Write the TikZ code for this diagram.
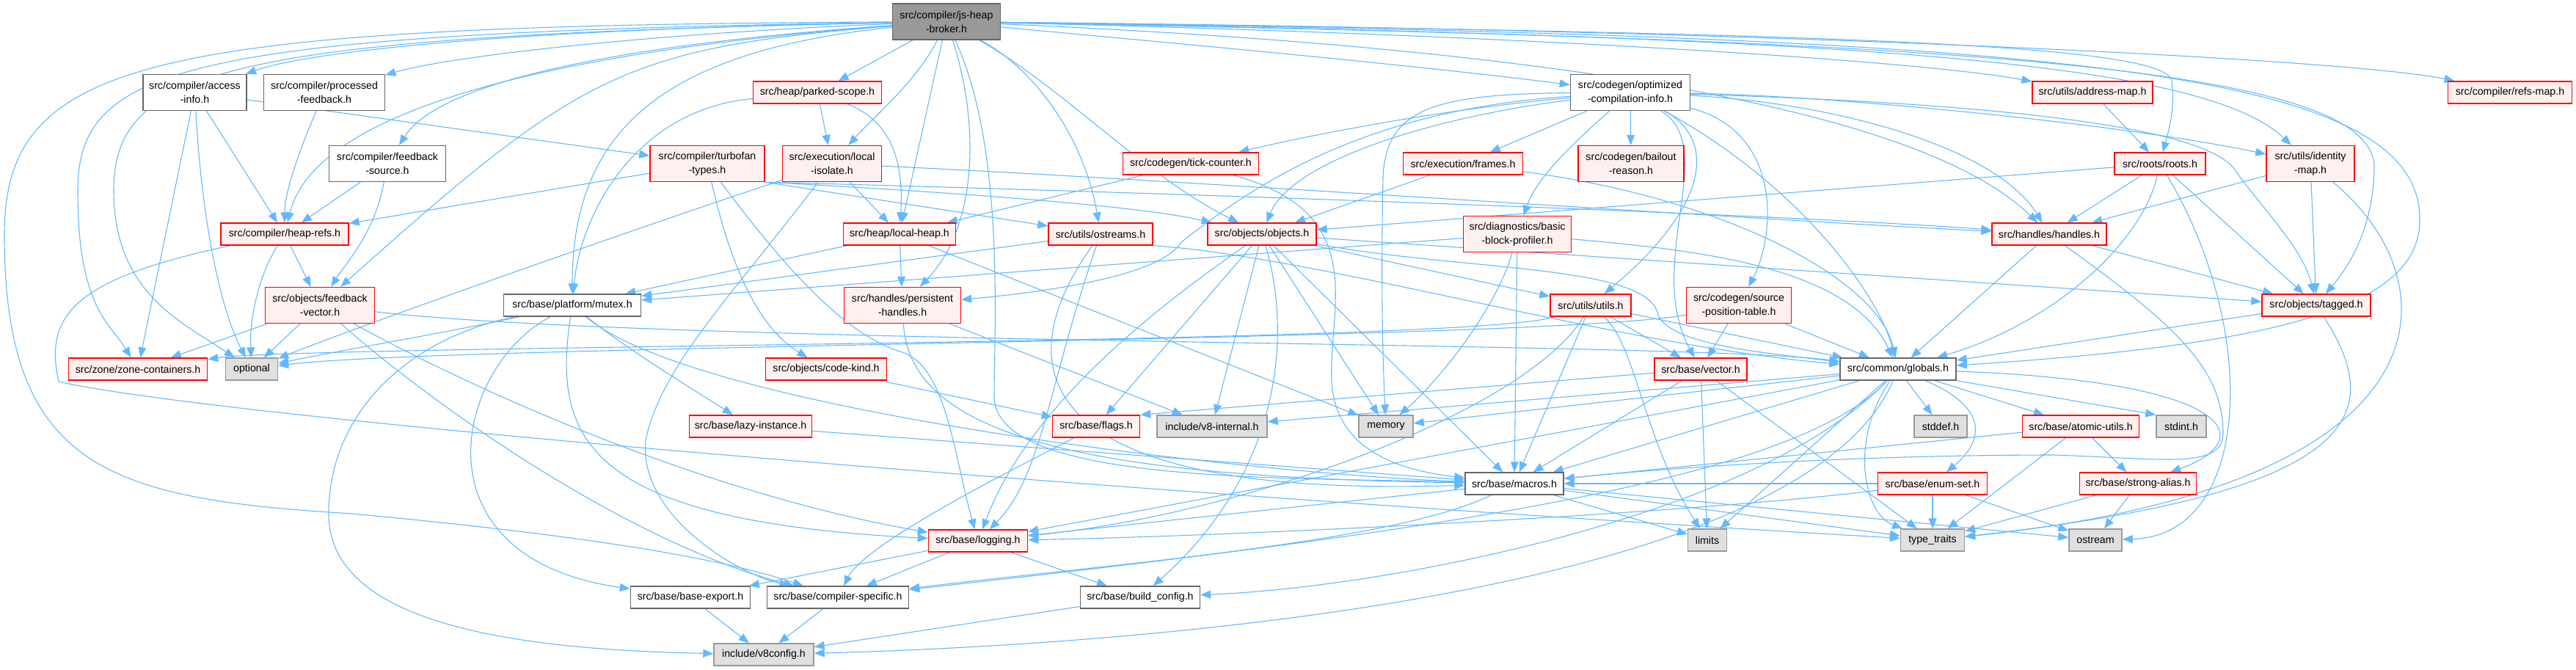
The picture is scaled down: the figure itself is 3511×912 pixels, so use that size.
\documentclass[tikz,border=0pt]{standalone}
\usepackage{fontspec}
\setmainfont{Liberation Sans}
\usetikzlibrary{arrows.meta}
\definecolor{edgec}{HTML}{63B8FF}
\definecolor{redfill}{HTML}{FFF0F0}
\definecolor{redd}{HTML}{FF0000}
\definecolor{greyfill}{HTML}{E0E0E0}
\definecolor{greyd}{HTML}{999999}
\definecolor{whited}{HTML}{666666}
\definecolor{mainfill}{HTML}{999999}
\pgfdeclarelayer{bg}
\pgfsetlayers{bg,main}
\begin{document}
\begin{tikzpicture}[x=0.5pt,y=-0.5pt,
  nb/.style={draw, line width=0.7pt, inner sep=0pt, align=center, font=\fontsize{7.1}{9.5}\selectfont},
  nr/.style={nb, draw=redd, fill=redfill},
  ng/.style={nb, draw=greyd, fill=greyfill},
  nw/.style={nb, draw=whited, fill=white},
  nm/.style={nb, draw=whited, fill=mainfill},
  one/.style={minimum height=15pt},
  two/.style={minimum height=24.5pt},
  ed/.style={draw=edgec, line width=0.55pt, -{Triangle[length=7pt,width=5.5pt]}}]
\useasboundingbox (0,0) rectangle (3511,912);
% rank 0
\node[nm,two,minimum width=73.5pt] (B) at (1290,29.5) {src/compiler/js-heap\\-broker.h};
% rank 1
\node[nw,two,minimum width=70.5pt] (AI) at (265.5,126) {src/compiler/access\\-info.h};
\node[nw,two,minimum width=82.5pt] (PF) at (442,126) {src/compiler/processed\\-feedback.h};
\node[nr,one,minimum width=87.5pt] (PS) at (1114,126) {src/heap/parked-scope.h};
\node[nw,two,minimum width=81.5pt] (OC) at (2222,126) {src/codegen/optimized\\-compilation-info.h};
\node[nr,one,minimum width=82pt] (AM) at (2852,126) {src/utils/address-map.h};
\node[nr,one,minimum width=84.5pt] (RM) at (3421,126) {src/compiler/refs-map.h};
% rank 2
\node[nw,two,minimum width=79.5pt] (FS) at (528,223) {src/compiler/feedback\\-source.h};
\node[nr,two,minimum width=78pt] (TT) at (964,223) {src/compiler/turbofan\\-types.h};
\node[nr,two,minimum width=67.5pt] (LI) at (1134,223) {src/execution/local\\-isolate.h};
\node[nr,one,minimum width=92.5pt] (TC) at (1623,223) {src/codegen/tick-counter.h};
\node[nr,one,minimum width=81.5pt] (FR) at (1994,223) {src/execution/frames.h};
\node[nr,two,minimum width=72pt] (BR) at (2223,223) {src/codegen/bailout\\-reason.h};
\node[nr,one,minimum width=62pt] (RO) at (2944,223) {src/roots/roots.h};
\node[nr,two,minimum width=60pt] (IM) at (3149,223) {src/utils/identity\\-map.h};
% rank 3
\node[nr,one,minimum width=87pt] (HR) at (388,319) {src/compiler/heap-refs.h};
\node[nr,one,minimum width=76.5pt] (LH) at (1226,319) {src/heap/local-heap.h};
\node[nr,one,minimum width=71pt] (OS) at (1500,319) {src/utils/ostreams.h};
\node[nr,one,minimum width=74pt] (OB) at (1720,319) {src/objects/objects.h};
\node[nr,two,minimum width=73.5pt] (BB) at (2068,319) {src/diagnostics/basic\\-block-profiler.h};
\node[nr,one,minimum width=78pt] (HA) at (2793,319) {src/handles/handles.h};
% rank 4
\node[nr,two,minimum width=74.5pt] (FV) at (436,416) {src/objects/feedback\\-vector.h};
\node[nw,one,minimum width=93.5pt] (MX) at (780,416) {src/base/platform/mutex.h};
\node[nr,two,minimum width=79.5pt] (PH) at (1230,416) {src/handles/persistent\\-handles.h};
\node[nr,one,minimum width=55pt] (UT) at (2168,416) {src/utils/utils.h};
\node[nr,two,minimum width=71.5pt] (SP) at (2370,416) {src/codegen/source\\-position-table.h};
\node[nr,one,minimum width=74pt] (TG) at (3157,416) {src/objects/tagged.h};
% rank 5
\node[nr,one,minimum width=94.5pt] (ZC) at (188,503) {src/zone/zone-containers.h};
\node[ng,one,minimum width=35.5pt] (OP) at (343,503) {optional};
\node[nr,one,minimum width=82.5pt] (CK) at (1126,503) {src/objects/code-kind.h};
\node[nr,one,minimum width=63pt] (VE) at (2318,503) {src/base/vector.h};
\node[nw,one,minimum width=79pt] (GL) at (2587,503) {src/common/globals.h};
% rank 6
\node[nr,one,minimum width=83.5pt] (LZ) at (1023,581) {src/base/lazy-instance.h};
\node[nr,one,minimum width=59.5pt] (FL) at (1494,581) {src/base/flags.h};
\node[ng,one,minimum width=75pt] (VI) at (1652,581) {include/v8-internal.h};
\node[ng,one,minimum width=37pt] (ME) at (1889,581) {memory};
\node[ng,one,minimum width=36pt] (SD) at (2645,581) {stddef.h};
\node[nr,one,minimum width=79.5pt] (AU) at (2836,581) {src/base/atomic-utils.h};
\node[ng,one,minimum width=34pt] (SI) at (2973,581) {stdint.h};
% rank 7
\node[nw,one,minimum width=67pt] (MA) at (2064,659) {src/base/macros.h};
\node[nr,one,minimum width=74.5pt] (ES) at (2634,659) {src/base/enum-set.h};
\node[nr,one,minimum width=79.5pt] (SA) at (2914,659) {src/base/strong-alias.h};
% rank 8
\node[nr,one,minimum width=67.5pt] (LO) at (1333,737) {src/base/logging.h};
\node[ng,one,minimum width=26.5pt] (LM) at (2327,736) {limits};
\node[ng,one,minimum width=43.5pt] (TR) at (2634,736) {type\_traits};
\node[ng,one,minimum width=36pt] (OT) at (2856,736) {ostream};
% rank 9
\node[nw,one,minimum width=81.5pt] (BE) at (941,814) {src/base/base-export.h};
\node[nw,one,minimum width=96.5pt] (CS) at (1142,814) {src/base/compiler-specific.h};
\node[nw,one,minimum width=81.5pt] (BC) at (1554,814) {src/base/build\_config.h};
% rank 10
\node[ng,one,minimum width=68pt] (V8) at (1041,892) {include/v8config.h};

\begin{pgfonlayer}{bg}
% broker
\draw[ed] (B) .. controls (700,40) and (420,70) .. (AI);
\draw[ed] (B) .. controls (900,45) and (620,75) .. (PF);
\draw[ed] (B) .. controls (850,60) and (600,110) .. (FS);
\draw[ed] (B) .. controls (750,70) and (430,150) .. (HR);
\draw[ed] (B) .. controls (850,65) and (790,100) .. (FV);
\draw[ed] (B) .. controls (250,45) and (106,90) .. (106,260) .. controls (106,420) and (150,440) .. (ZC);
\draw[ed] (B) .. controls (320,50) and (155,90) .. (155,260) .. controls (155,400) and (250,440) .. (OP);
\draw[ed] (B) .. controls (200,35) and (6,80) .. (6,320) .. controls (6,640) and (150,680) .. (480,700) .. controls (800,730) and (980,760) .. (CS);
\draw[ed] (B) .. controls (900,70) and (780,180) .. (MX);
\draw[ed] (B) -- (PS);
\draw[ed] (B) .. controls (1250,110) and (1190,160) .. (LI);
\draw[ed] (B) -- (LH);
\draw[ed] (B) .. controls (1330,150) and (1340,300) .. (PH);
\draw[ed] (B) .. controls (1370,200) and (1355,450) .. (1355,540) .. controls (1355,660) and (1750,650) .. (MA);
\draw[ed] (B) .. controls (1420,100) and (1480,200) .. (OS);
\draw[ed] (B) .. controls (1450,120) and (1560,240) .. (OB);
\draw[ed] (B) .. controls (1500,50) and (1900,85) .. (OC);
\draw[ed] (B) .. controls (2000,60) and (2600,130) .. (HA);
\draw[ed] (B) .. controls (2000,45) and (2600,80) .. (AM);
\draw[ed] (B) .. controls (2400,40) and (3200,80) .. (RM);
\draw[ed] (B) .. controls (2500,45) and (2950,60) .. (2960,110) .. controls (2965,150) and (2955,180) .. (RO);
\draw[ed] (B) .. controls (2500,50) and (3000,80) .. (IM);
\draw[ed] (B) .. controls (2700,55) and (3240,90) .. (3236,230) .. controls (3234,320) and (3195,370) .. (TG);
\draw[ed] (B) .. controls (2800,50) and (3300,90) .. (3298,300) .. controls (3298,420) and (3100,470) .. (GL);
% access-info etc
\draw[ed] (AI) -- (TT);
\draw[ed] (AI) -- (HR);
\draw[ed] (AI) -- (ZC);
\draw[ed] (AI) .. controls (275,300) and (300,420) .. (OP);
\draw[ed] (PF) .. controls (410,200) and (388,260) .. (HR);
\draw[ed] (FS) -- (HR);
\draw[ed] (FS) .. controls (510,320) and (470,360) .. (FV);
% turbofan-types
\draw[ed] (TT) -- (HR);
\draw[ed] (TT.south east) -- (OS);
\draw[ed] (TT.south east) .. controls (1300,262) and (1550,280) .. (OB);
\draw[ed] (TT.south east) .. controls (1500,260) and (2400,290) .. (HA);
\draw[ed] (TT) .. controls (1000,380) and (1040,450) .. (CK);
\draw[ed] (TT) .. controls (1080,380) and (1160,460) .. (1230,480) .. controls (1290,500) and (1300,620) .. (LO);
% local-isolate
\draw[ed] (LI) -- (LH);
\draw[ed] (LI) .. controls (1600,245) and (2400,300) .. (HA);
\draw[ed] (LI) .. controls (900,300) and (500,440) .. (OP);
\draw[ed] (LI) .. controls (1000,400) and (900,500) .. (880,600) .. controls (870,700) and (1000,780) .. (CS);
% parked-scope
\draw[ed] (PS) -- (LI);
\draw[ed] (PS) .. controls (1215,165) and (1232,220) .. (LH);
\draw[ed] (PS) .. controls (860,150) and (790,300) .. (MX);
% tick-counter
\draw[ed] (TC) -- (LH);
\draw[ed] (TC) .. controls (1870,290) and (1810,420) .. (1815,520) .. controls (1820,610) and (1900,640) .. (MA);
% optimized-compilation-info
\draw[ed] (OC) .. controls (1950,150) and (1760,190) .. (TC);
\draw[ed] (OC) -- (FR);
\draw[ed] (OC) -- (BR);
\draw[ed] (OC) .. controls (2150,190) and (2095,240) .. (BB);
\draw[ed] (OC) .. controls (2340,190) and (2330,280) .. (UT);
\draw[ed] (OC) .. controls (2430,180) and (2420,320) .. (SP);
\draw[ed] (OC) .. controls (1950,160) and (1760,220) .. (OB);
\draw[ed] (OC) .. controls (1850,150) and (1700,260) .. (1610,330) .. controls (1580,380) and (1400,400) .. (PH);
\draw[ed] (OC) .. controls (1950,128) and (1890,150) .. (1885,240) .. controls (1882,400) and (1885,500) .. (ME);
\draw[ed] (OC) .. controls (2500,140) and (2720,200) .. (HA);
\draw[ed] (OC) .. controls (2500,130) and (2900,170) .. (IM);
\draw[ed] (OC) .. controls (2700,140) and (3000,170) .. (3045,230) .. controls (3080,280) and (3140,340) .. (TG);
\draw[ed] (OC) .. controls (2450,250) and (2560,400) .. (GL);
\draw[ed] (OC) .. controls (2345,200) and (2240,360) .. (VE);
% frames, roots, address-map, identity-map
\draw[ed] (FR) -- (OB);
\draw[ed] (FR) .. controls (2350,270) and (2560,380) .. (GL);
\draw[ed] (RO) -- (HA);
\draw[ed] (RO) -- (TG);
\draw[ed] (RO) -- (OB);
\draw[ed] (RO) .. controls (2920,330) and (2800,440) .. (GL);
\draw[ed] (RO) .. controls (3080,450) and (3070,730) .. (OT);
\draw[ed] (AM) -- (RO);
\draw[ed] (IM) -- (HA);
\draw[ed] (IM) -- (TG);
\draw[ed] (IM) .. controls (3340,380) and (3360,660) .. (TR);
% heap-refs
\draw[ed] (HR) -- (FV);
\draw[ed] (HR) .. controls (350,380) and (340,440) .. (OP);
\draw[ed] (HR) .. controls (100,380) and (60,430) .. (80,520) .. controls (300,570) and (1500,670) .. (TR);
% feedback-vector
\draw[ed] (FV) -- (ZC);
\draw[ed] (FV) -- (OP);
\draw[ed] (FV) .. controls (900,470) and (2300,465) .. (GL);
\draw[ed] (FV) .. controls (700,560) and (1000,680) .. (LO);
\draw[ed] (FV) .. controls (600,560) and (860,740) .. (CS);
% mutex
\draw[ed] (MX) .. controls (600,455) and (450,480) .. (OP);
\draw[ed] (MX) .. controls (620,500) and (560,760) .. (BE);
\draw[ed] (MX) .. controls (560,460) and (448,560) .. (448,700) .. controls (448,850) and (700,885) .. (V8);
\draw[ed] (MX) .. controls (860,480) and (960,540) .. (LZ);
\draw[ed] (MX) .. controls (752,600) and (800,710) .. (LO);
\draw[ed] (MX) .. controls (950,560) and (1700,645) .. (MA);
% local-heap
\draw[ed] (LH) -- (MX);
\draw[ed] (LH) -- (PH);
\draw[ed] (LH) -- (ME);
% ostreams
\draw[ed] (OS) -- (MX);
\draw[ed] (OS) .. controls (1370,500) and (1400,680) .. (MA);
\draw[ed] (OS) .. controls (1430,520) and (1420,650) .. (LO);
\draw[ed] (OS.south east) .. controls (1800,350) and (2200,470) .. (GL);
% objects
\draw[ed] (OB) -- (UT);
\draw[ed] (OB) -- (TG);
\draw[ed] (OB) .. controls (2000,370) and (2250,360) .. (2260,430) .. controls (2280,470) and (2400,480) .. (GL);
\draw[ed] (OB) -- (ME);
\draw[ed] (OB) -- (VI);
\draw[ed] (OB) -- (FL);
\draw[ed] (OB) -- (MA);
\draw[ed] (OB) .. controls (1560,430) and (1400,560) .. (LO);
\draw[ed] (OB) .. controls (1760,450) and (1750,640) .. (BC);
% basic-block-profiler
\draw[ed] (BB) -- (MX);
\draw[ed] (BB) .. controls (2040,420) and (1960,520) .. (ME);
\draw[ed] (BB) -- (MA);
\draw[ed] (BB) .. controls (2300,340) and (2520,360) .. (GL);
% handles
\draw[ed] (HA) -- (TG);
\draw[ed] (HA) -- (GL);
\draw[ed] (HA) .. controls (2960,440) and (3030,500) .. (3030,590) .. controls (3030,640) and (2950,625) .. (2800,620) .. controls (2500,620) and (2250,640) .. (MA);
% tagged
\draw[ed] (TG) -- (GL);
\draw[ed] (TG) .. controls (3250,560) and (3230,670) .. (TR);
% utils
\draw[ed] (UT) -- (VE);
\draw[ed] (UT) -- (GL);
\draw[ed] (UT) -- (MA);
\draw[ed] (UT) .. controls (2080,560) and (1700,700) .. (LO);
\draw[ed] (UT) .. controls (2230,470) and (2240,600) .. (LM);
\draw[ed] (UT) .. controls (2000,470) and (420,470) .. (ZC);
% source-position-table
\draw[ed] (SP) -- (VE);
\draw[ed] (SP) -- (GL);
\draw[ed] (SP) .. controls (2100,465) and (600,470) .. (OP);
% vector
\draw[ed] (VE) -- (FL.north east);
\draw[ed] (VE) -- (LM);
\draw[ed] (VE) -- (MA);
\draw[ed] (VE) -- (TR);
% globals
\draw[ed] (GL) -- (VI);
\draw[ed] (GL) -- (ME);
\draw[ed] (GL) -- (MA);
\draw[ed] (GL) -- (LM);
\draw[ed] (GL) -- (SD);
\draw[ed] (GL) .. controls (2710,555) and (2705,600) .. (ES);
\draw[ed] (GL) -- (AU);
\draw[ed] (GL.south east) -- (SI.north west);
\draw[ed] (GL) .. controls (3050,520) and (3080,600) .. (SA);
\draw[ed] (GL) .. controls (2520,600) and (2540,700) .. (TR);
\draw[ed] (GL) -- (LO);
\draw[ed] (GL) .. controls (2450,650) and (2000,720) .. (CS);
\draw[ed] (GL) .. controls (2400,700) and (1900,800) .. (BC);
\draw[ed] (GL) .. controls (2450,820) and (1500,880) .. (V8);
% macros
\draw[ed] (MA) -- (LM);
\draw[ed] (MA) -- (TR);
\draw[ed] (MA) -- (OT);
\draw[ed] (MA) -- (LO);
\draw[ed] (MA) .. controls (1900,740) and (1500,770) .. (CS);
% enum-set, atomic-utils, strong-alias
\draw[ed] (ES) -- (TR);
\draw[ed] (ES) -- (OT);
\draw[ed] (ES) -- (MA);
\draw[ed] (ES) .. controls (2300,700) and (1700,730) .. (LO);
\draw[ed] (AU) -- (TR);
\draw[ed] (AU) -- (SA);
\draw[ed] (AU) -- (MA);
\draw[ed] (SA) -- (TR);
\draw[ed] (SA) -- (OT);
% logging and below
\draw[ed] (LO) -- (BE);
\draw[ed] (LO) -- (CS);
\draw[ed] (LO) -- (BC);
\draw[ed] (BE) -- (V8);
\draw[ed] (CS) -- (V8);
\draw[ed] (BC) -- (V8);
\draw[ed] (FL) .. controls (1380,640) and (1180,740) .. (CS);
\draw[ed] (CK) -- (FL);
\draw[ed] (LZ) -- (MA);
\draw[ed] (PH) .. controls (1240,600) and (1500,650) .. (MA);
\draw[ed] (PH) -- (VI);
\end{pgfonlayer}
\end{tikzpicture}
\end{document}
